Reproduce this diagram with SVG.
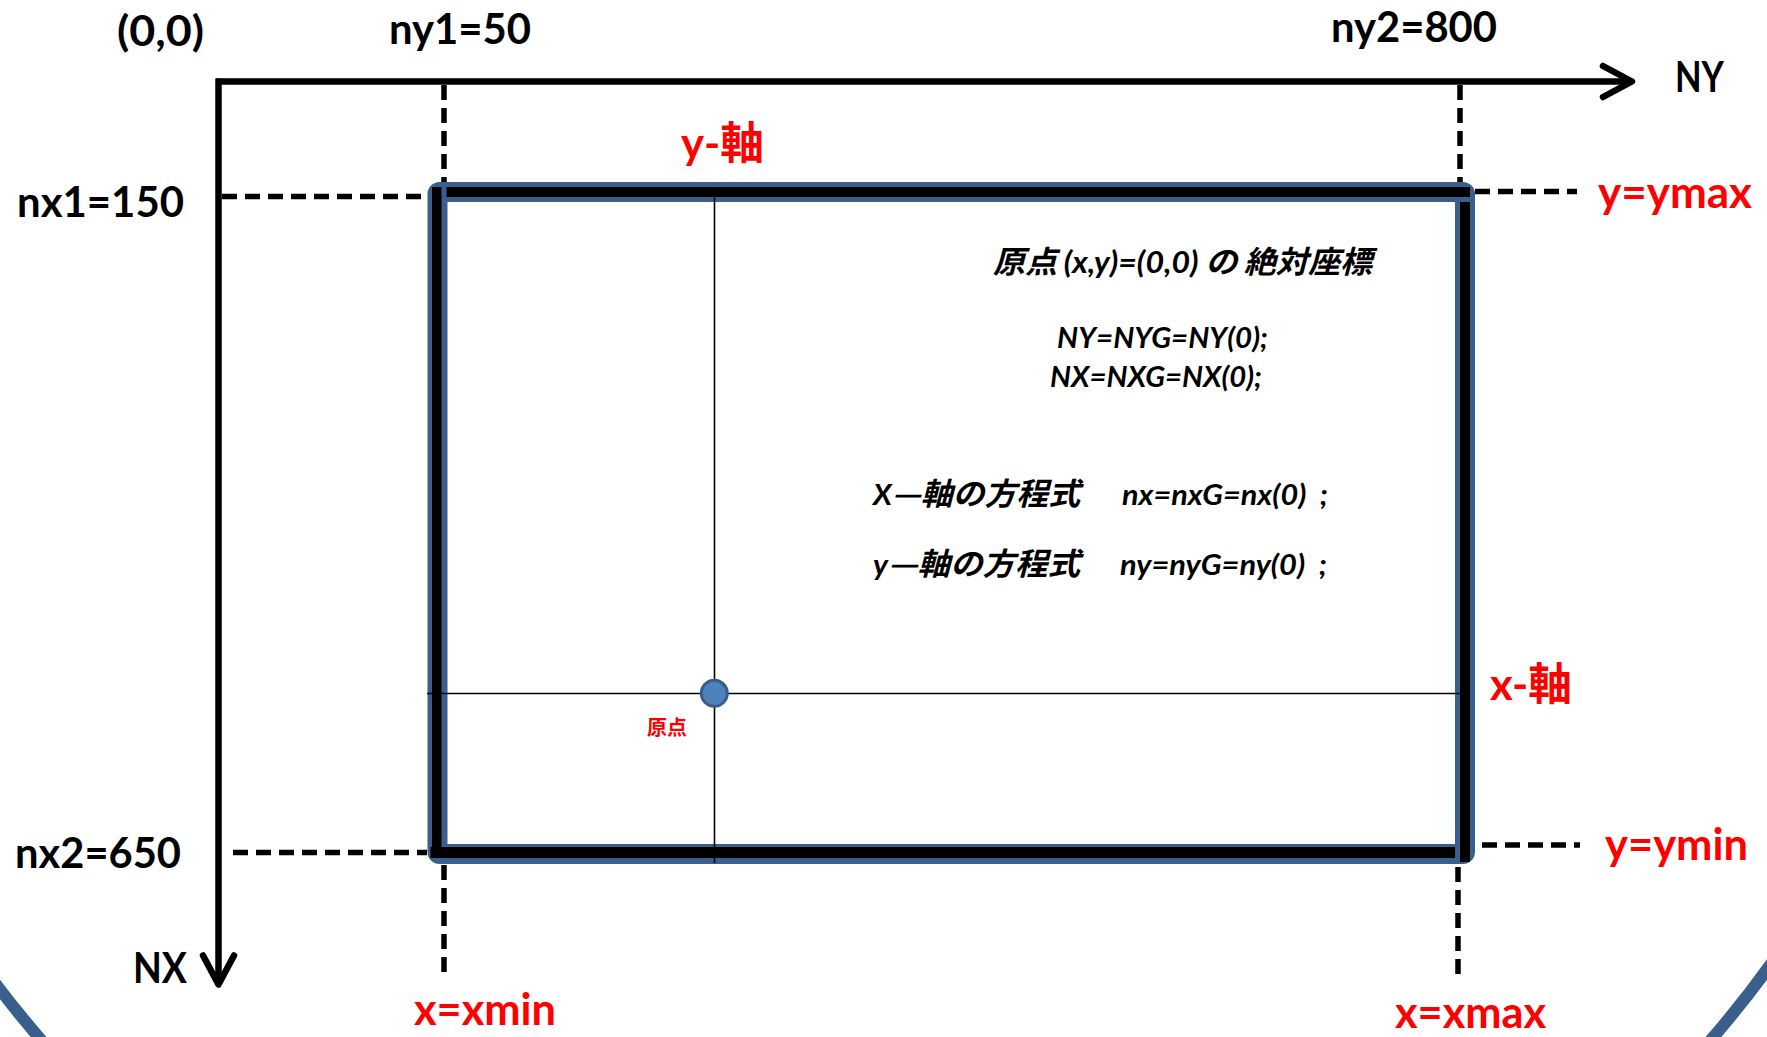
<svg xmlns="http://www.w3.org/2000/svg" width="1767" height="1037" viewBox="0 0 1767 1037">
<style>
  text { font-family: Lato, "Noto Sans CJK JP", sans-serif; font-weight: 700; }
  .lbl { font-size: 42px; fill: #000; }
  .red { font-size: 44px; fill: #FF0000; }
  .cjk { font-family: "Noto Sans CJK JP", sans-serif; }
  .mid { font-size: 29px; font-style: italic; fill: #000; }
  .mid .cjk { font-size: 31px; }
  .axis { stroke: #000; stroke-width: 6.5; fill: none; }
  .dash { stroke: #000; stroke-width: 5.5; stroke-dasharray: 15 8; fill: none; }
  .thin { stroke: #000; stroke-width: 1.6; fill: none; }
  .band { fill: none; stroke: #3A5F8D; stroke-width: 20; }
  .bar { fill: #000; }
</style>
<defs>
  <marker id="arr" markerUnits="userSpaceOnUse" markerWidth="44" markerHeight="44" viewBox="-36 -22 44 44" refX="0" refY="0" orient="auto" overflow="visible">
    <path d="M -29 -15.5 L 0 0 L -29 15.5" fill="none" stroke="#000" stroke-width="6.5" stroke-linecap="round" stroke-linejoin="round"/>
  </marker>
</defs>

<!-- background frame arc -->
<circle id="frame" cx="876" cy="319" r="1103" fill="none" stroke="#3A5F8D" stroke-width="12"/>

<g id="connectors">
  <!-- axes -->
  <path class="axis" d="M 216 81.5 L 1632 81.5" marker-end="url(#arr)"/>
  <path class="axis" d="M 218.5 78.5 L 218.5 984.5" marker-end="url(#arr)"/>
  <!-- dashed guides -->
  <path class="dash" d="M 222 196.5 L 427 196.5"/>
  <path class="dash" d="M 233 852.5 L 427 852.5"/>
  <path class="dash" d="M 444 85 L 444 182"/>
  <path class="dash" d="M 444 865 L 444 975"/>
  <path class="dash" d="M 1460 85 L 1460 182"/>
  <path class="dash" d="M 1458 867 L 1458 975"/>
  <path class="dash" d="M 1475 191.5 L 1577 191.5"/>
  <path class="dash" d="M 1482 845 L 1580 845"/>
</g>

<g id="frame-rect">
  <rect class="band" x="437.5" y="192" width="1027.5" height="662" rx="2"/>
  <rect class="bar" x="446.5" y="187" width="1023.5" height="10"/>
  <rect class="bar" x="432" y="187" width="9.5" height="671"/>
  <rect class="bar" x="1460" y="202" width="10" height="660"/>
  <rect class="bar" x="430.5" y="847" width="1024.5" height="11"/>
</g>

<g id="inner-axes">
  <line class="thin" x1="714.5" y1="192" x2="714.5" y2="863"/>
  <line class="thin" x1="427" y1="693.5" x2="1470" y2="693.5"/>
</g>

<g id="origin">
  <circle cx="714.3" cy="693.3" r="13" fill="#4F81BD" stroke="#385D8A" stroke-width="3"/>
  <text x="647" y="735" font-size="20" fill="#FF0000" textLength="40" lengthAdjust="spacingAndGlyphs" class="cjk">原点</text>
</g>

<g id="labels-black">
  <text class="lbl" x="117" y="46" textLength="87" lengthAdjust="spacingAndGlyphs">(0,0)</text>
  <text class="lbl" x="389" y="44" textLength="142" lengthAdjust="spacingAndGlyphs">ny1=50</text>
  <text class="lbl" x="1331" y="42" textLength="166" lengthAdjust="spacingAndGlyphs">ny2=800</text>
  <text class="lbl" x="1675" y="92" font-size="44" textLength="49" lengthAdjust="spacingAndGlyphs">NY</text>
  <text class="lbl" x="17" y="217" textLength="167" lengthAdjust="spacingAndGlyphs">nx1=150</text>
  <text class="lbl" x="15" y="868" textLength="166" lengthAdjust="spacingAndGlyphs">nx2=650</text>
  <text class="lbl" x="133" y="983" font-size="44" textLength="54" lengthAdjust="spacingAndGlyphs">NX</text>
</g>

<g id="labels-red">
  <text class="red" x="681" y="159" font-size="46" textLength="83" lengthAdjust="spacingAndGlyphs">y-<tspan class="cjk">軸</tspan></text>
  <text class="red" x="1490" y="700" font-size="46" textLength="82" lengthAdjust="spacingAndGlyphs">x-<tspan class="cjk">軸</tspan></text>
  <text class="red" x="1598" y="208" textLength="154" lengthAdjust="spacingAndGlyphs">y=ymax</text>
  <text class="red" x="1605" y="860" textLength="143" lengthAdjust="spacingAndGlyphs">y=ymin</text>
  <text class="red" x="414" y="1025" textLength="142" lengthAdjust="spacingAndGlyphs">x=xmin</text>
  <text class="red" x="1395" y="1028" textLength="151" lengthAdjust="spacingAndGlyphs">x=xmax</text>
</g>

<g id="notes">
  <text class="mid" x="993" y="273" textLength="379" lengthAdjust="spacingAndGlyphs"><tspan class="cjk">原点</tspan> <tspan font-size="31">(x,y)=(0,0)</tspan> <tspan class="cjk">の</tspan> <tspan class="cjk">絶対座標</tspan></text>
  <text class="mid" x="1057" y="348" textLength="211" lengthAdjust="spacingAndGlyphs">NY=NYG=NY(0);</text>
  <text class="mid" x="1050" y="387" textLength="212" lengthAdjust="spacingAndGlyphs">NX=NXG=NX(0);</text>
  <text class="mid" x="873" y="505" textLength="207" lengthAdjust="spacingAndGlyphs">X<tspan class="cjk">—軸の方程式</tspan></text>
  <text class="mid" x="1122" y="505" textLength="206" lengthAdjust="spacingAndGlyphs">nx=nxG=nx(0)&#160; ;</text>
  <text class="mid" x="873" y="575" textLength="207" lengthAdjust="spacingAndGlyphs">y<tspan class="cjk">—軸の方程式</tspan></text>
  <text class="mid" x="1120" y="575" textLength="207" lengthAdjust="spacingAndGlyphs">ny=nyG=ny(0)&#160; ;</text>
</g>
</svg>
